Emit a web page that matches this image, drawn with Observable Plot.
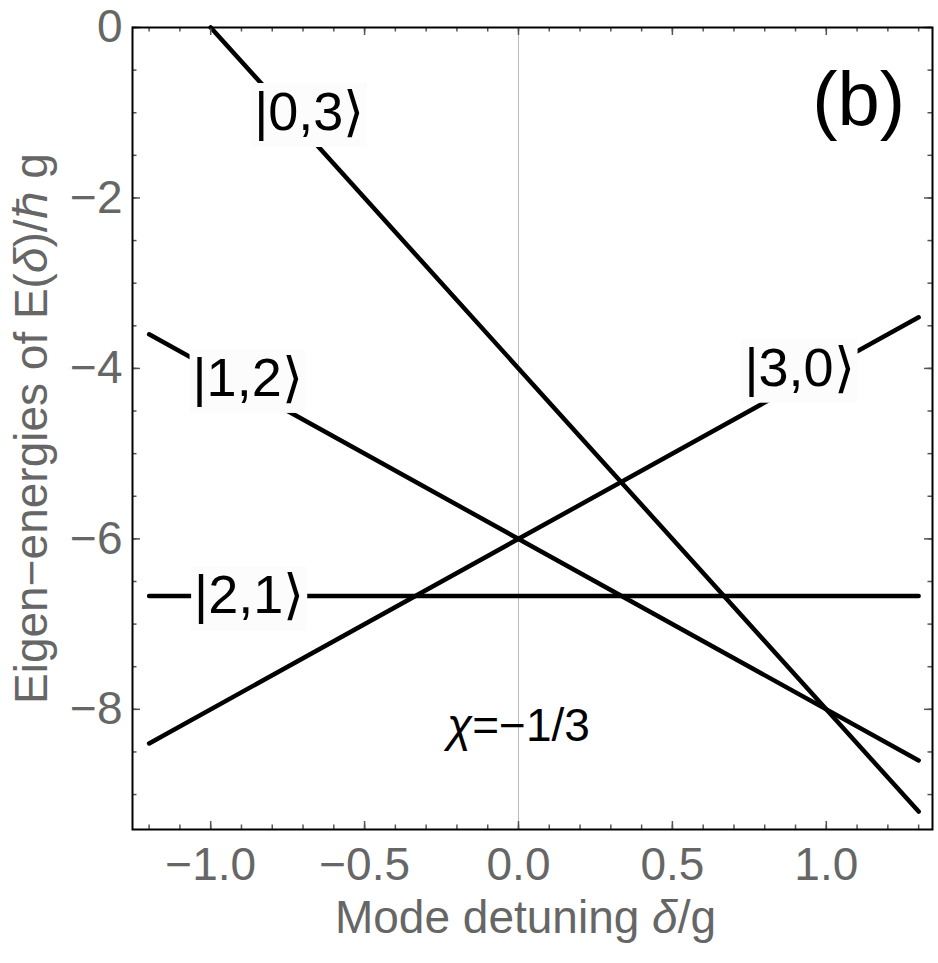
<!DOCTYPE html>
<html><head><meta charset="utf-8">
<script src="https://cdn.jsdelivr.net/npm/d3@7"></script>
<script src="https://cdn.jsdelivr.net/npm/@observablehq/plot@0.6"></script>
<style>body{margin:0;background:#fff}</style>
</head><body><div id="chart"></div>
<script>
// ---- data ----
const stateNames   = ["|0,3⟩", "|1,2⟩", "|2,1⟩", "|3,0⟩"];
const lineDelta    = [[-1.0, 1.3], [-1.2, 1.3], [-1.2, 1.3], [-1.2, 1.3]];
const lineEnergy   = [[0, -9.2], [-3.6, -8.6], [-6.67, -6.67], [-8.4, -3.4]];
const labelDelta   = [-0.68, -0.88, -0.875, 0.913];
const labelEnergy  = [-1.0, -4.12, -6.67, -4.0];
const xMajorTicks  = [-1.0, -0.5, 0.0, 0.5, 1.0];
const xMinorTicks  = [-1.2,-1.1,-1.0,-0.9,-0.8,-0.7,-0.6,-0.5,-0.4,-0.3,-0.2,-0.1,0,0.1,0.2,0.3,0.4,0.5,0.6,0.7,0.8,0.9,1.0,1.1,1.2,1.3];
const yMajorTicks  = [0, -2, -4, -6, -8];
const yMinorTicks  = [0,-0.5,-1,-1.5,-2,-2.5,-3,-3.5,-4,-4.5,-5,-5.5,-6,-6.5,-7,-7.5,-8,-8.5,-9];
const chiLabel     = ["χ=−1/3"];
const chiPos       = [0.0, -8.2];
const panelLabel   = ["(b)"];
const panelPos     = [1.105, -0.86];
const xTitle       = ["Mode detuning δ/g"];
const yTitle       = ["Eigen−energies of E(δ)/ℏ g"];
const xDomain      = [-1.254, 1.345];
const yDomain      = [-9.41, 0];

// ---- tables built from the arrays ----
const lineRows = stateNames.flatMap((s, i) =>
  lineDelta[i].map((d, j) => ({state: s, delta: d, energy: lineEnergy[i][j]})));
const labelRows = stateNames.map((s, i) => ({text: s, delta: labelDelta[i], energy: labelEnergy[i]}));

const FONT = "'Liberation Sans', Arial, Helvetica, sans-serif";
const W = 938, H = 963, ML = 132, MR = 6, MT = 27, MB = 134;
const PW = W - ML - MR, PH = H - MT - MB;
const TICK = "#555", LAB = "#666";

const plot = Plot.plot({
  width: W, height: H,
  marginLeft: ML, marginRight: MR, marginTop: MT, marginBottom: MB,
  x: {domain: xDomain},
  y: {domain: yDomain},
  style: {fontFamily: FONT, background: "white"},
  marks: [
    Plot.ruleX([0], {stroke: "#bbb", strokeWidth: 1}),
    Plot.line(lineRows, {x: "delta", y: "energy", z: "state", stroke: "black", strokeWidth: 4.5}),
    Plot.text(labelRows, {x: "delta", y: "energy", text: "text", fontSize: 54, fill: "black"}),
    Plot.text(chiLabel, {x: () => chiPos[0], y: () => chiPos[1], text: d => d, fontSize: 46, fill: "black"}),
    Plot.text(panelLabel, {x: () => panelPos[0], y: () => panelPos[1], text: d => d, fontSize: 76, fill: "black"}),
    // minor / major ticks inside on all four sides
    Plot.ruleX(xMinorTicks, {stroke: TICK, strokeWidth: 1.5, insetTop: PH - 4.5}),
    Plot.ruleX(xMinorTicks, {stroke: TICK, strokeWidth: 1.5, insetBottom: PH - 4.5}),
    Plot.ruleX(xMajorTicks, {stroke: TICK, strokeWidth: 1.5, insetTop: PH - 8}),
    Plot.ruleX(xMajorTicks, {stroke: TICK, strokeWidth: 1.5, insetBottom: PH - 8}),
    Plot.ruleY(yMinorTicks, {stroke: TICK, strokeWidth: 1.5, insetRight: PW - 4.5}),
    Plot.ruleY(yMinorTicks, {stroke: TICK, strokeWidth: 1.5, insetLeft: PW - 4.5}),
    Plot.ruleY(yMajorTicks, {stroke: TICK, strokeWidth: 1.5, insetRight: PW - 8}),
    Plot.ruleY(yMajorTicks, {stroke: TICK, strokeWidth: 1.5, insetLeft: PW - 8}),
    Plot.axisX(xMajorTicks, {anchor: "bottom", tickSize: 0, tickPadding: 18, tickFormat: d3.format(".1f"),
      fontSize: 46, color: LAB, label: null}),
    Plot.axisY(yMajorTicks, {anchor: "left", tickSize: 0, tickPadding: 10, tickFormat: d3.format("d"),
      fontSize: 46, color: LAB, label: null}),
    Plot.text(xTitle, {frameAnchor: "bottom", text: d => d, textAnchor: "middle", dx: -7, dy: 103, fontSize: 46, fill: LAB}),
    Plot.text(yTitle, {frameAnchor: "left", text: d => d, textAnchor: "middle", rotate: -90, dx: -100, fontSize: 46, fill: LAB}),
    Plot.frame({stroke: "black", strokeWidth: 2})
  ]
});
document.getElementById("chart").appendChild(plot);

// ---- post-processing: label backgrounds and italic Greek letters ----
const svg = d3.select(plot);
svg.selectAll("text").each(function() {
  const t = this.textContent;
  if (stateNames.includes(t)) {
    const b = this.getBBox();
    const tr = this.getAttribute("transform");
    const r = d3.select(this.parentNode).insert("rect", () => this)
      .attr("x", b.x - 3).attr("y", b.y + 2).attr("width", b.width + 6).attr("height", b.height + 4)
      .attr("fill", "#fcfcfc").attr("stroke", "none");
    if (tr) r.attr("transform", tr);
  }
});
function italicize(textSel, str, chars) {
  textSel.text(null);
  let buf = "";
  for (const ch of str) {
    if (chars.includes(ch)) {
      if (buf) textSel.append("tspan").text(buf);
      buf = "";
      textSel.append("tspan").attr("font-style", "italic").text(ch);
    } else buf += ch;
  }
  if (buf) textSel.append("tspan").text(buf);
}
svg.selectAll("text").each(function() {
  const t = this.textContent;
  if (t === xTitle[0] || t === yTitle[0]) italicize(d3.select(this), t, ["δ"]);
  if (t === chiLabel[0]) italicize(d3.select(this), t, ["χ"]);
});
</script>
</body></html>
